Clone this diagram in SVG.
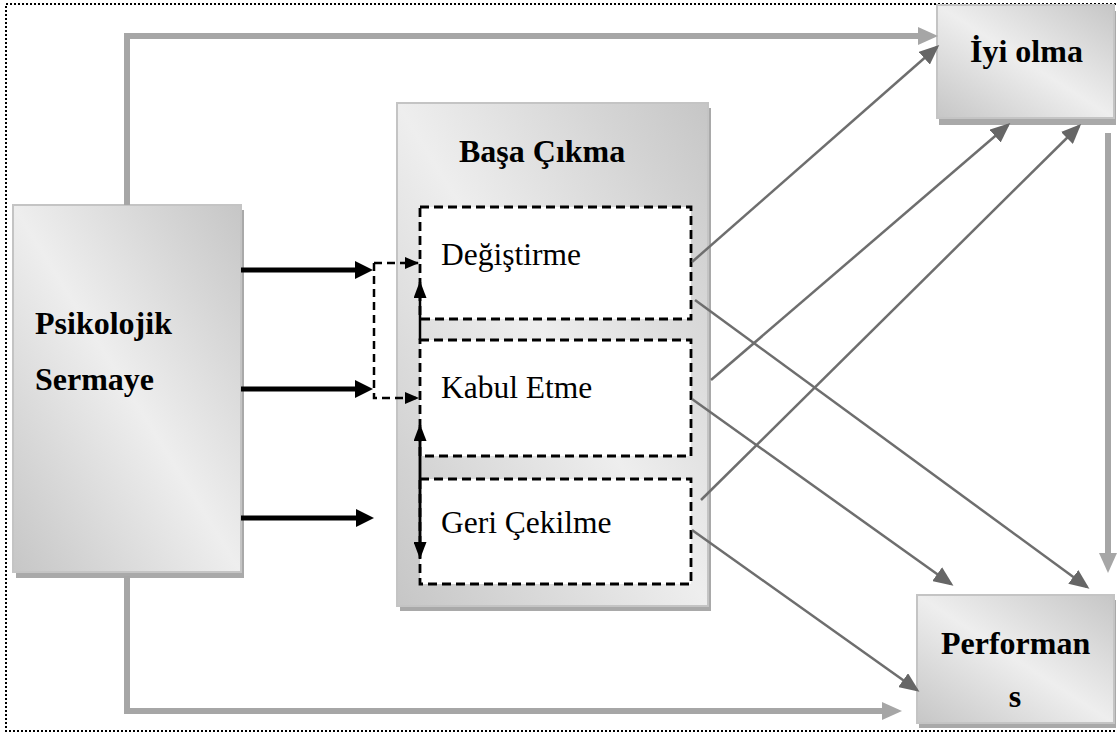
<svg xmlns="http://www.w3.org/2000/svg" width="1117" height="734" viewBox="0 0 1117 734">
<style>
.box{stroke:#c4c4c4;stroke-width:2}
.shadow{fill:#a9a9a9}
.inner{fill:#ffffff;stroke:#000;stroke-width:2.8;stroke-dasharray:9 5}
.bold{font-family:"Liberation Serif","Times New Roman",serif;font-weight:bold;font-size:32px;fill:#000}
.reg{font-family:"Liberation Serif","Times New Roman",serif;font-size:31.5px;fill:#000}
.thick{fill:none;stroke:#a6a6a6;stroke-width:6}
.diag{fill:none;stroke:#6e6e6e;stroke-width:2.5}
.black{fill:none;stroke:#000;stroke-width:5}
.dash{fill:none;stroke:#000;stroke-width:2.5;stroke-dasharray:8 5}
.solid{fill:none;stroke:#000;stroke-width:2.5}
</style>
<defs>
<linearGradient id="g" x1="1" y1="0" x2="0" y2="1">
<stop offset="0" stop-color="#c6c6c6"/>
<stop offset="0.5" stop-color="#eeeeee"/>
<stop offset="1" stop-color="#c6c6c6"/>
</linearGradient>
<marker id="aThick" markerUnits="userSpaceOnUse" markerWidth="20" markerHeight="18" refX="2" refY="9" orient="auto"><path d="M0,0 L20,9 L0,18 z" fill="#a6a6a6"/></marker>
<marker id="aDiag" markerUnits="userSpaceOnUse" markerWidth="20" markerHeight="17" refX="17" refY="8.5" orient="auto"><path d="M0,0 L20,8.5 L0,17 z" fill="#666666"/></marker>
<marker id="aBlack" markerUnits="userSpaceOnUse" markerWidth="18" markerHeight="18" refX="1" refY="9" orient="auto"><path d="M0,0 L18,9 L0,18 z" fill="#000"/></marker>
<marker id="aSmall" markerUnits="userSpaceOnUse" markerWidth="14" markerHeight="12" refX="13" refY="6" orient="auto"><path d="M0,0 L14,6 L0,12 z" fill="#000"/></marker>
<marker id="aV" markerUnits="userSpaceOnUse" markerWidth="17" markerHeight="13" refX="16" refY="6.5" orient="auto"><path d="M0,0 L17,6.5 L0,13 z" fill="#000"/></marker>
</defs>

<path d="M1120,4 H6 V731 H1120" fill="none" stroke="#000" stroke-width="2" stroke-dasharray="2 2"/>

<g id="psikolojik-sermaye">
<rect class="shadow" x="16" y="210" width="228" height="368"/>
<rect class="box" x="13" y="205" width="228" height="367" fill="url(#g)"/>
<text class="bold" x="35" y="334">Psikolojik</text>
<text class="bold" x="35" y="390">Sermaye</text>
</g>

<g id="basa-cikma">
<rect class="shadow" x="400" y="108" width="311" height="503"/>
<rect class="box" x="397" y="103" width="311" height="503" fill="url(#g)"/>
<text class="bold" x="459" y="162">Başa Çıkma</text>
</g>

<g id="degistirme">
<rect class="inner" x="420" y="207" width="271" height="112"/>
<text class="reg" x="441" y="265">Değiştirme</text>
</g>

<g id="kabul-etme">
<rect class="inner" x="420" y="340" width="271" height="116"/>
<text class="reg" x="441" y="398">Kabul Etme</text>
</g>

<g id="geri-cekilme">
<rect class="inner" x="420" y="479" width="271" height="105"/>
<text class="reg" x="441" y="533">Geri Çekilme</text>
</g>

<g id="iyi-olma">
<rect class="shadow" x="939" y="11" width="177" height="114"/>
<rect class="box" x="937" y="5" width="177" height="113" fill="url(#g)"/>
<text class="bold" x="970" y="62">İyi olma</text>
</g>

<g id="performans">
<rect class="shadow" x="919" y="600" width="197" height="128"/>
<rect class="box" x="917" y="595" width="197" height="128" fill="url(#g)"/>
<text class="bold" x="941" y="654">Performan</text>
<text class="bold" x="1015" y="707" text-anchor="middle">s</text>
</g>

<g id="connectors">
<path class="thick" d="M127,205 V36 H920" marker-end="url(#aThick)"/>
<path class="thick" d="M127,576 V711 H884" marker-end="url(#aThick)"/>
<path class="thick" d="M1108,133 V555" marker-end="url(#aThick)"/>

<line class="black" x1="241" y1="270" x2="356" y2="270" marker-end="url(#aBlack)"/>
<line class="black" x1="241" y1="389" x2="356" y2="389" marker-end="url(#aBlack)"/>
<line class="black" x1="241" y1="518" x2="357" y2="518" marker-end="url(#aBlack)"/>

<path class="dash" d="M374,263 H418" marker-end="url(#aSmall)"/>
<path class="dash" d="M374,263 V398 H418" marker-end="url(#aSmall)"/>

<line class="solid" x1="420" y1="340" x2="420" y2="282" marker-end="url(#aV)"/>
<line class="solid" x1="420" y1="543" x2="420" y2="425" marker-end="url(#aV)"/>
<line class="solid" x1="420" y1="442" x2="420" y2="558" marker-end="url(#aV)"/>

<line class="diag" x1="692" y1="262" x2="937" y2="47" marker-end="url(#aDiag)"/>
<line class="diag" x1="695" y1="300" x2="1087" y2="587" marker-end="url(#aDiag)"/>
<line class="diag" x1="711" y1="380" x2="1008" y2="125" marker-end="url(#aDiag)"/>
<line class="diag" x1="692" y1="399" x2="951" y2="584" marker-end="url(#aDiag)"/>
<line class="diag" x1="701" y1="500" x2="1079" y2="126" marker-end="url(#aDiag)"/>
<line class="diag" x1="692" y1="530" x2="917" y2="690" marker-end="url(#aDiag)"/>
</g>
</svg>
